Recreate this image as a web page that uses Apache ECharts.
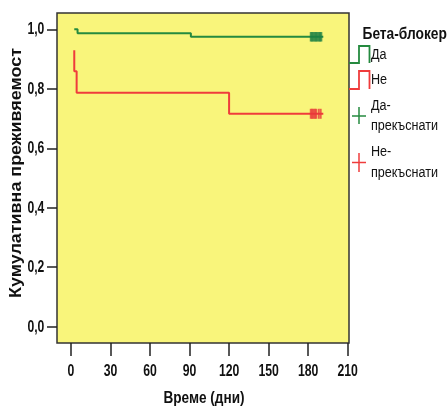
<!DOCTYPE html>
<html>
<head>
<meta charset="utf-8">
<script src="https://cdn.jsdelivr.net/npm/echarts@6/dist/echarts.min.js"></script>
<style>
  html, body { margin: 0; padding: 0; background: #fff; }
  #chart { width: 448px; height: 409px; }
</style>
</head>
<body>
<div id="chart"></div>
<script>
// Kaplan–Meier survival by beta-blocker use
const xTicks = [0, 30, 60, 90, 120, 150, 180, 210];
const yTicks = [0.0, 0.2, 0.4, 0.6, 0.8, 1.0];

// step curves: [day, cumulative survival]
const yesCurve = [[2.5, 1.0], [5, 0.987], [91, 0.975], [191.5, 0.975]];
const noCurve = [[2.5, 0.930], [2.5, 0.859], [4.3, 0.787], [120, 0.716], [191.5, 0.716]];

// censored observation times
const yesCensoredDays = [182, 183, 184, 185, 186, 187, 188, 189, 190];
const yesCensoredSurv = 0.975;
const noCensoredDays = [182, 183, 184, 185, 186, 188, 189.5];
const noCensoredSurv = 0.716;

const xTitle = 'Време (дни)';
const yTitle = 'Кумулативна преживяемост';
const legendTitle = 'Бета-блокер';

const GREEN = '#258a3f';
const RED = '#ef3c3c';
const FONT = '"Liberation Sans", Arial, sans-serif';
const INK = '#111';

const chart = echarts.init(document.getElementById('chart'), null, { renderer: 'canvas' });

const tickStyle = { show: true, lineStyle: { color: '#222', width: 1.5 } };

chart.setOption({
  animation: false,
  grid: {
    left: 57, top: 13, right: 99, bottom: 66,
    show: true, backgroundColor: '#f9f57b', borderColor: '#333', borderWidth: 1.5
  },
  xAxis: {
    type: 'value', min: -10.6, max: 211,
    axisLine: { show: false, onZero: false },
    splitLine: { show: false },
    axisTick: Object.assign({}, tickStyle, { length: 13, customValues: xTicks }),
    axisLabel: { show: false }
  },
  yAxis: {
    type: 'value', min: -0.055, max: 1.055,
    axisLine: { show: false, onZero: false },
    splitLine: { show: false },
    axisTick: Object.assign({}, tickStyle, { length: 10, customValues: yTicks }),
    axisLabel: { show: false }
  },
  series: [
    {
      name: 'Да', type: 'line', step: 'end', data: yesCurve,
      symbol: 'none', lineStyle: { color: GREEN, width: 2 }, z: 3
    },
    {
      name: 'Не', type: 'line', step: 'end', data: noCurve,
      symbol: 'none', lineStyle: { color: RED, width: 2 }, z: 3
    },
    {
      name: 'Да-прекъснати', type: 'scatter',
      data: yesCensoredDays.map(d => [d, yesCensoredSurv]),
      symbol: 'rect', symbolSize: [2, 9.5], itemStyle: { color: '#1b7f43' }, z: 4
    },
    {
      name: 'Не-прекъснати', type: 'scatter',
      data: noCensoredDays.map(d => [d, noCensoredSurv]),
      symbol: 'rect', symbolSize: [2, 10], itemStyle: { color: '#e8383a' }, z: 4
    }
  ]
});

// Condensed text: regular glyphs squeezed horizontally around their anchor
function label(text, x, y, opts) {
  return {
    type: 'text', x: x, y: y,
    scaleX: opts.sx || 1, rotation: opts.rot || 0,
    style: {
      text: text, fill: INK,
      font: (opts.bold ? 'bold ' : '') + opts.size + 'px ' + FONT,
      align: opts.align || 'left', verticalAlign: 'middle',
      lineHeight: opts.lh
    },
    z: 10
  };
}

const graphics = [];

// tick labels placed through the axis scales
const plotBottom = chart.convertToPixel({ yAxisIndex: 0 }, -0.055);
const plotLeft = chart.convertToPixel({ xAxisIndex: 0 }, -10.6);
xTicks.forEach(v => {
  const px = chart.convertToPixel({ xAxisIndex: 0 }, v);
  graphics.push(label(String(v), px, plotBottom + 28, { size: 17, bold: true, sx: 0.72, align: 'center' }));
});
yTicks.forEach(v => {
  const py = chart.convertToPixel({ yAxisIndex: 0 }, v);
  graphics.push(label(v.toFixed(1).replace('.', ','), plotLeft - 12.7, py + 0.5,
    { size: 16, bold: true, sx: 0.76, align: 'right' }));
});

// axis titles
graphics.push(label(xTitle, 204, 399, { size: 16, bold: true, sx: 0.85, align: 'center' }));
graphics.push(label(yTitle, 17, 173, { size: 16, bold: true, sx: 1.12, align: 'center', rot: Math.PI / 2 }));

// legend
graphics.push(label(legendTitle, 362.5, 34.5, { size: 16, bold: true, sx: 0.86 }));
graphics.push({ type: 'polyline', shape: { points: [[349, 63], [359, 63], [359, 46], [369.5, 46], [369.5, 63]] },
  style: { stroke: GREEN, lineWidth: 1.8, fill: null } });
graphics.push(label('Да', 371, 55, { size: 14, sx: 0.9 }));
graphics.push({ type: 'polyline', shape: { points: [[349, 89], [359, 89], [359, 71], [369.5, 71], [369.5, 89]] },
  style: { stroke: RED, lineWidth: 1.8, fill: null } });
graphics.push(label('Не', 371, 80.5, { size: 14, sx: 0.9 }));
graphics.push({ type: 'polyline', shape: { points: [[352, 116], [366, 116]] }, style: { stroke: GREEN, lineWidth: 1.5 } });
graphics.push({ type: 'polyline', shape: { points: [[359, 107], [359, 124]] }, style: { stroke: GREEN, lineWidth: 1.5 } });
graphics.push(label('Да-', 371, 106.5, { size: 14, sx: 0.9 }));
graphics.push(label('прекъснати', 371, 126.5, { size: 14, sx: 0.9 }));
graphics.push({ type: 'polyline', shape: { points: [[352, 162.5], [366, 162.5]] }, style: { stroke: RED, lineWidth: 1.5 } });
graphics.push({ type: 'polyline', shape: { points: [[359, 153], [359, 172]] }, style: { stroke: RED, lineWidth: 1.5 } });
graphics.push(label('Не-', 371, 152.5, { size: 14, sx: 0.9 }));
graphics.push(label('прекъснати', 371, 173.5, { size: 14, sx: 0.9 }));

chart.setOption({ graphic: graphics });
</script>
</body>
</html>
